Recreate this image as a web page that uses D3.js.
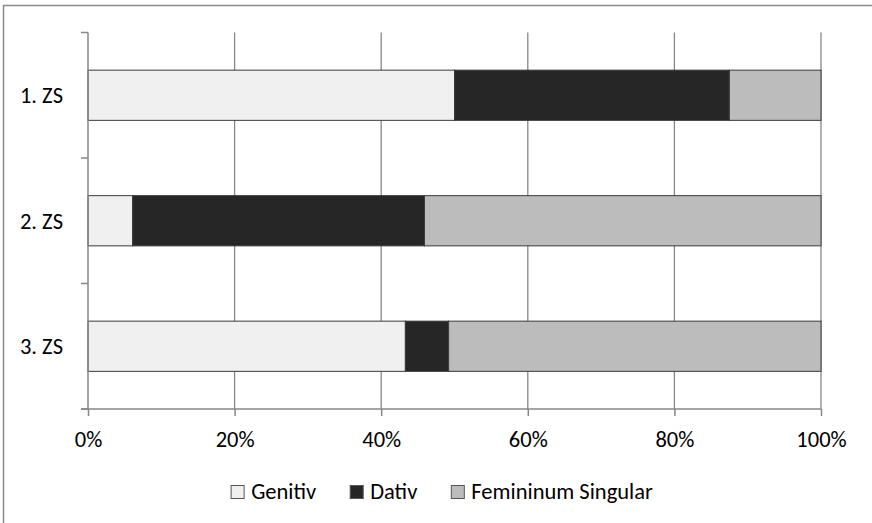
<!DOCTYPE html>
<html>
<head>
<meta charset="utf-8">
<script src="https://cdn.jsdelivr.net/npm/d3@7/dist/d3.min.js"></script>
<style>
  html, body { margin: 0; padding: 0; background: #fff; }
  svg { display: block; font-family: Carlito, Lato, "Open Sans", sans-serif; }
</style>
</head>
<body>
<svg id="chart" width="872" height="523"></svg>
<script>
// Stufen (rows) and share of each category in percent
const categories = ["1. ZS", "2. ZS", "3. ZS"];
const seriesNames = ["Genitiv", "Dativ", "Femininum Singular"];
const genitiv = [50.0, 6.1, 43.3];
const dativ = [37.5, 39.8, 5.9];
const femininumSingular = [12.5, 54.1, 50.8];
const xTickValues = [0, 20, 40, 60, 80, 100];

const colors = ["#f0f0f0", "#262626", "#bcbcbc"];
const fontSize = 22.5;

const rows = categories.map((c, i) => ({
  cat: c,
  Genitiv: genitiv[i],
  Dativ: dativ[i],
  "Femininum Singular": femininumSingular[i]
}));

const svg = d3.select("#chart");
const W = 872, H = 523;

// outer frame
svg.append("rect")
  .attr("x", 3.5).attr("y", 5.5)
  .attr("width", W).attr("height", H)
  .attr("fill", "none").attr("stroke", "#8a8a8a").attr("stroke-width", 1.5);

const plotLeft = 88, plotRight = 821, plotTop = 32.5, plotBottom = 409;

const x = d3.scaleLinear().domain([0, 100]).range([plotLeft, plotRight]);
const y = d3.scaleBand().domain(categories).range([plotTop, plotBottom])
  .paddingInner(0.6).paddingOuter(0.3);

const gridColor = "#878787";

// vertical grid lines
svg.append("g").selectAll("line")
  .data(xTickValues.slice(1))
  .join("line")
  .attr("x1", d => x(d)).attr("x2", d => x(d))
  .attr("y1", plotTop).attr("y2", plotBottom)
  .attr("stroke", gridColor).attr("stroke-width", 1.3);

// stacked bars
const stack = d3.stack().keys(seriesNames);
const layers = stack(rows);

svg.append("g").selectAll("g")
  .data(layers)
  .join("g")
  .attr("fill", (d, i) => colors[i])
  .selectAll("rect")
  .data(d => d)
  .join("rect")
  .attr("x", d => x(d[0]))
  .attr("width", d => x(d[1]) - x(d[0]))
  .attr("y", d => y(d.data.cat))
  .attr("height", y.bandwidth())
  .attr("stroke", "#3a3a3a")
  .attr("stroke-width", 1);

// y axis: line with band boundary ticks
const yAxisG = svg.append("g");
yAxisG.append("line")
  .attr("x1", plotLeft).attr("x2", plotLeft)
  .attr("y1", plotTop).attr("y2", plotBottom)
  .attr("stroke", gridColor).attr("stroke-width", 1.5);
const step = y.step();
const yBoundaries = d3.range(categories.length + 1).map(i => plotTop + i * step);
yAxisG.selectAll("line.tick")
  .data(yBoundaries)
  .join("line")
  .attr("class", "tick")
  .attr("x1", plotLeft - 7).attr("x2", plotLeft)
  .attr("y1", d => d).attr("y2", d => d)
  .attr("stroke", gridColor).attr("stroke-width", 1.5);
yAxisG.selectAll("text")
  .data(categories)
  .join("text")
  .attr("x", 63)
  .attr("y", d => y(d) + y.bandwidth() / 2)
  .attr("dy", "0.35em")
  .attr("text-anchor", "end")
  .attr("font-size", fontSize)
  .attr("fill", "#000")
  .text(d => d);

// x axis
const xAxis = d3.axisBottom(x)
  .tickValues(xTickValues)
  .tickFormat(d => d + "%")
  .tickSize(7)
  .tickSizeOuter(0)
  .tickPadding(15);
const xg = svg.append("g")
  .attr("transform", `translate(0,${plotBottom})`)
  .call(xAxis);
xg.select(".domain").attr("stroke", gridColor).attr("stroke-width", 1.5)
  .attr("d", `M${plotLeft - 7},0H${plotRight}`);
xg.selectAll(".tick line").attr("stroke", gridColor).attr("stroke-width", 1.5);
xg.selectAll(".tick text")
  .attr("font-size", fontSize)
  .attr("font-family", "Carlito, Lato, 'Open Sans', sans-serif")
  .attr("fill", "#000");

// legend
const legendGap = 34;
const legend = svg.append("g");
const items = legend.selectAll("g")
  .data(seriesNames)
  .join("g");
items.append("rect")
  .attr("width", 13).attr("height", 13)
  .attr("y", -13.5)
  .attr("fill", (d, i) => colors[i])
  .attr("stroke", "#555").attr("stroke-width", 1);
items.append("text")
  .attr("x", 20)
  .attr("y", 0)
  .attr("font-size", fontSize)
  .attr("fill", "#000")
  .text(d => d);
let cursor = 0;
items.each(function () {
  const g = d3.select(this);
  const w = 20 + g.select("text").node().getComputedTextLength();
  g.attr("transform", `translate(${cursor},0)`);
  cursor += w + legendGap;
});
const legendWidth = cursor - legendGap;
legend.attr("transform", `translate(${442 - legendWidth / 2},499)`);
</script>
</body>
</html>
